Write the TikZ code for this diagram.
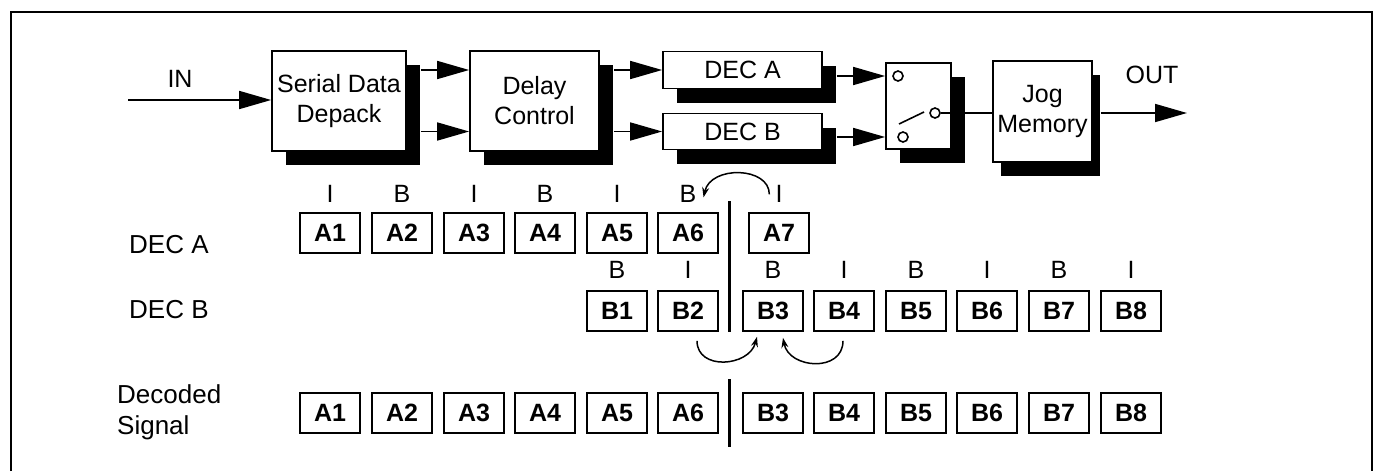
\documentclass[tikz,border=0pt]{standalone}
\usepackage{fontspec}
\setmainfont{Liberation Sans}
\usepackage{tikz}
\usetikzlibrary{arrows.meta,positioning,shadows}

\begin{document}
\begin{tikzpicture}[x=1pt, y=1pt, >={Triangle[length=32pt,width=18pt]},
  blk/.style={draw, fill=white, line width=1.7pt, align=center, inner sep=0pt,
    font=\fontsize{25}{30}\selectfont,
    drop shadow={shadow xshift=#1, shadow yshift=-14pt, fill=black, opacity=1}},
  blk/.default=14pt,
  slot/.style={draw, line width=1.7pt, minimum width=60pt, minimum height=40pt,
    inner sep=0pt, font=\fontsize{25}{30}\selectfont\bfseries},
  ftype/.style={font=\fontsize{25}{30}\selectfont, inner sep=2pt},
  rowlbl/.style={font=\fontsize{26}{31}\selectfont, anchor=west, align=left, inner sep=0pt},
  flow/.style={->, line width=1.7pt},
  turn/.style={-{Stealth[length=10pt,width=7pt]}, line width=1.5pt},
  contact/.style={circle, draw, line width=1.6pt, minimum size=10pt, inner sep=0pt},
  bar/.style={line width=3pt}]
\useasboundingbox (0,0) rectangle (1378,-471);
\draw[line width=1.6pt] (11,-471) -- (11,-12) -- (1372,-12) -- (1372,-471);
% signal chain
\node[blk, minimum width=134pt, minimum height=100pt] (depack) at (339,-101) {Serial Data\\Depack};
\node[blk, minimum width=129pt, minimum height=100pt] (delay) at (534.5,-101) {Delay\\Control};
\node[blk, minimum width=159pt, minimum height=37pt] (deca) at (742.5,-70) {DEC A};
\node[blk, minimum width=159pt, minimum height=36pt] (decb) at (742.5,-131.5) {DEC B};
\node[blk, minimum width=65pt, minimum height=86pt] (switch) at (918.5,-106) {};
\node[blk=8pt, minimum width=99pt, minimum height=101pt] (jog) at (1042.5,-111.5) {Jog\\Memory};
\node[contact] (swa) at (898,-76) {};
\node[contact] (swb) at (903,-137) {};
\node[contact] (swo) at (935,-113) {};
\node[ftype] (inlbl) at (180,-79) {IN};
\node[ftype] (outlbl) at (1152,-75) {OUT};
\coordinate (inbeg) at (128,-100);
\coordinate (outend) at (1187,-113);
\draw[flow] (inbeg) -- (depack.west |- inbeg);
\draw[flow] ([xshift=14pt]depack.east |- deca) -- (delay.west |- deca);
\draw[flow] ([xshift=14pt]depack.east |- decb) -- (delay.west |- decb);
\draw[flow] ([xshift=14pt]delay.east |- deca) -- (deca.west);
\draw[flow] ([xshift=14pt]delay.east |- decb) -- (decb.west);
\draw[flow] ([xshift=14pt]deca.east |- swa) -- (switch.west |- swa);
\draw[flow] ([xshift=14pt]decb.east |- swb) -- (switch.west |- swb);
\draw[line width=1.6pt] ([shift={(-4,13)}]swb.center) -- ([shift={(-11,1)}]swo.center);
\draw[line width=1.7pt] (swo.east) -- (jog.west |- swo);
\draw[flow] ([xshift=8pt]jog.east |- outend) -- (outend);
% timing rows
\node[rowlbl] (laba) at (129,-245) {DEC A};
\node[rowlbl] (labb) at (129,-310) {DEC B};
\node[rowlbl] (labd) at (117,-412) {Decoded\\Signal};
\node[slot] (a1) at (330,-233) {A1};
\node[slot] (a2) at (402,-233) {A2};
\node[slot] (a3) at (474,-233) {A3};
\node[slot] (a4) at (545,-233) {A4};
\node[slot] (a5) at (617,-233) {A5};
\node[slot] (a6) at (688,-233) {A6};
\node[slot] (a7) at (779,-233) {A7};
\node[slot] (b1) at (617,-311) {B1};
\node[slot] (b2) at (688,-311) {B2};
\node[slot] (b3) at (773,-311) {B3};
\node[slot] (b4) at (844,-311) {B4};
\node[slot] (b5) at (916,-311) {B5};
\node[slot] (b6) at (987,-311) {B6};
\node[slot] (b7) at (1059,-311) {B7};
\node[slot] (b8) at (1131,-311) {B8};
\node[slot] (da1) at (330,-413) {A1};
\node[slot] (da2) at (402,-413) {A2};
\node[slot] (da3) at (474,-413) {A3};
\node[slot] (da4) at (545,-413) {A4};
\node[slot] (da5) at (617,-413) {A5};
\node[slot] (da6) at (688,-413) {A6};
\node[slot] (db3) at (773,-413) {B3};
\node[slot] (db4) at (844,-413) {B4};
\node[slot] (db5) at (916,-413) {B5};
\node[slot] (db6) at (987,-413) {B6};
\node[slot] (db7) at (1059,-413) {B7};
\node[slot] (db8) at (1131,-413) {B8};
\node[ftype, above=7pt of a1] (ta1) {I};
\node[ftype, above=7pt of a2] (ta2) {B};
\node[ftype, above=7pt of a3] (ta3) {I};
\node[ftype, above=7pt of a4] (ta4) {B};
\node[ftype, above=7pt of a5] (ta5) {I};
\node[ftype, above=7pt of a6] (ta6) {B};
\node[ftype, above=7pt of a7] (ta7) {I};
\node[ftype, above=9pt of b1] (tb1) {B};
\node[ftype, above=9pt of b2] (tb2) {I};
\node[ftype, above=9pt of b3] (tb3) {B};
\node[ftype, above=9pt of b4] (tb4) {I};
\node[ftype, above=9pt of b5] (tb5) {B};
\node[ftype, above=9pt of b6] (tb6) {I};
\node[ftype, above=9pt of b7] (tb7) {B};
\node[ftype, above=9pt of b8] (tb8) {I};
\coordinate (cut1t) at (729,-201);
\coordinate (cut1b) at (729,-332);
\coordinate (cut2t) at (729,-379);
\coordinate (cut2b) at (729,-447);
\draw[bar] (cut1t) -- (cut1b);
\draw[bar] (cut2t) -- (cut2b);
\draw[turn] ([xshift=-4pt]ta7.west) .. controls +(0,28) and +(7,32) .. ([shift={(5,-3)}]ta6.east);
\draw[turn] ([shift={(9,-9)}]b2.south) .. controls +(0,-30) and +(-8,-30) .. ([shift={(-16,-5)}]b3.south);
\draw[turn] ([shift={(-1,-9)}]b4.south) .. controls +(0,-32) and +(6,-31) .. ([shift={(10,-6)}]b3.south);
\end{tikzpicture}
\end{document}
